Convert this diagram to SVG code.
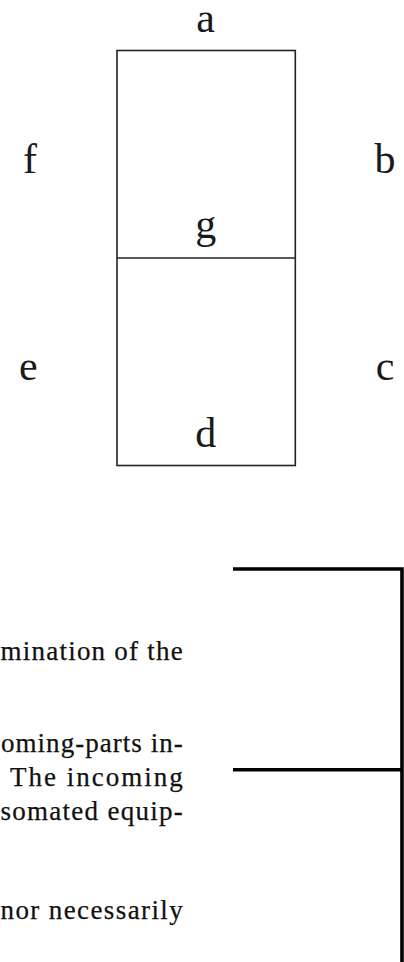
<svg xmlns="http://www.w3.org/2000/svg" width="404" height="962" viewBox="0 0 404 962">
  <style>
    .lbl { font-family: "Liberation Serif", "Times New Roman", serif; font-size: 42px; fill: #1a1a1a; text-anchor: middle; }
    .body { font-family: "Liberation Serif", "Times New Roman", serif; font-size: 27px; fill: #111; stroke: #111; stroke-width: 0.25; }
    .box { fill: none; stroke: #222; stroke-width: 1.6; }
    .brk { fill: none; stroke: #000; stroke-width: 3.6; }
  </style>
  <rect width="404" height="962" fill="#fff"/>
  <g id="segment-box">
    <rect class="box" x="117" y="50.5" width="178.3" height="415"/>
    <line class="box" x1="117" y1="258" x2="295.3" y2="258"/>
  </g>
  <g id="label-a"><text class="lbl" x="205.7" y="31.5">a</text></g>
  <g id="label-b"><text class="lbl" x="385" y="172.7">b</text></g>
  <g id="label-c"><text class="lbl" x="385" y="380">c</text></g>
  <g id="label-d"><text class="lbl" x="205.7" y="446.5">d</text></g>
  <g id="label-e"><text class="lbl" x="28.3" y="380">e</text></g>
  <g id="label-f"><text class="lbl" x="30" y="172.7">f</text></g>
  <g id="label-g"><text class="lbl" x="205.7" y="238">g</text></g>
  <g id="text-block">
    <text class="body" x="0.5" y="660" textLength="182.2" lengthAdjust="spacing">mination of the</text>
    <text class="body" x="1" y="752" textLength="181.7" lengthAdjust="spacing">oming-parts in-</text>
    <text class="body" x="10" y="786" textLength="172.7" lengthAdjust="spacing">The incoming</text>
    <text class="body" x="0.5" y="820" textLength="182.2" lengthAdjust="spacing">somated equip-</text>
    <text class="body" x="0.5" y="918.5" textLength="182.2" lengthAdjust="spacing">nor necessarily</text>
  </g>
  <g id="connectors">
    <polyline class="brk" points="233,569 402,569 402,962"/>
    <line class="brk" x1="233" y1="769.7" x2="402" y2="769.7"/>
  </g>
</svg>
